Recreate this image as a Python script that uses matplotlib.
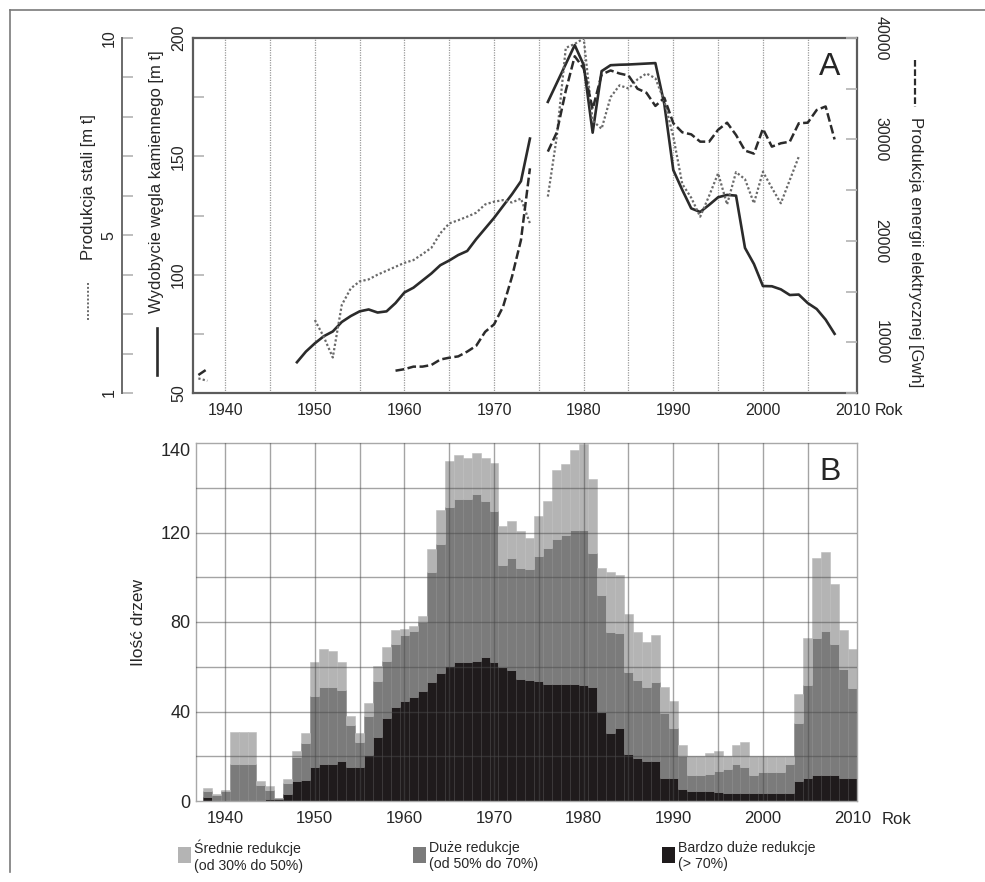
import matplotlib
matplotlib.use("Agg")
import matplotlib.pyplot as plt
from matplotlib.lines import Line2D
from matplotlib.patches import Rectangle
import numpy as np

plt.rcParams['font.family'] = ['Liberation Sans', 'DejaVu Sans']

# ---------------- DATA: panel A (lines) ----------------
coal_years_a = list(range(1948, 1975))
coal_a = [63, 67.5, 71, 74, 76, 80, 82.5, 84.5, 85.3, 84, 84.5, 88, 92.5, 94.5, 97.5,
          100.5, 104, 106, 108.3, 110, 115, 119.5, 124, 129, 134, 139.5, 157.5]
coal_years_b = list(range(1976, 2009))
coal_b = [173, 181, 189, 197, 188.6, 160, 186, 188.5, 188.7, 188.8, 189, 189.2, 189.4,
          172, 144.2, 135.8, 128, 126.5, 129.5, 132.7, 133.7, 133.4, 111.3, 104.5, 95.2,
          95.1, 93.8, 91.4, 91.6, 88, 85.5, 81, 75]

steel_years_0 = [1937, 1938]
steel_0 = [1.37, 1.31]
steel_years_a = list(range(1950, 1975))
steel_a = [2.85, 2.42, 1.9, 3.23, 3.65, 3.83, 3.88, 4.0, 4.1, 4.2, 4.3, 4.37, 4.52, 4.68,
           5.05, 5.3, 5.38, 5.47, 5.57, 5.78, 5.85, 5.89, 5.83, 5.93, 5.3]
steel_years_b = list(range(1976, 2005))
steel_b = [5.98, 7.5, 9.75, 9.85, 9.99, 7.9, 7.7, 8.5, 8.8, 8.72, 8.95, 9.1, 8.98, 8.4,
           7.5, 6.3, 5.95, 5.47, 6.0, 6.57, 5.78, 6.6, 6.42, 5.81, 6.61, 6.2, 5.81, 6.4, 6.99]

elec_years_0 = [1937, 1938]
elec_0 = [6775, 7370]
elec_years_a = list(range(1959, 1975))
elec_a = [7200, 7350, 7600, 7600, 7760, 8300, 8480, 8610, 9080, 9650, 11030, 11770,
          13500, 16470, 20080, 27150]
elec_years_b = list(range(1976, 2009))
elec_b = [28800, 30700, 34800, 38200, 37000, 33000, 36400, 36800, 36500, 36300, 35000,
          34600, 33300, 34100, 31600, 30700, 30500, 29780, 29780, 30950, 31650, 30440,
          28900, 28600, 31050, 29290, 29620, 29780, 31590, 31650, 32900, 33250, 30000]

# ---------------- DATA: panel B (stacked bars) ----------------
bar_years = list(range(1938, 2011))
srednie = [1.5, 0.5, 0.5, 14.5, 14.5, 14.5, 2, 1.5, 0, 2,
           3, 4.5, 15, 17, 16, 12.5, 4, 4, 6, 7,
           6.5, 6.5, 3, 2, 2.5, 10, 15, 20.5, 19.5, 18.5,
           18.5, 19.5, 21.5, 17.5, 16.5, 16.5, 14, 18, 21, 31,
           31.5, 36, 38.5, 33, 12, 27, 26, 26, 21.5, 20,
           21, 11.5, 12, 5, 8.5, 8.5, 9.5, 9, 5.5, 8.5,
           11.5, 8.5, 7, 7, 7, 3.5, 13, 21, 35.5, 35.5,
           27, 17.5, 17.5]
duze = [2.5, 2.5, 4.5, 16.5, 16.5, 16.5, 7, 4, 0.5, 5,
        10.5, 16.5, 32, 34.5, 34.5, 31.5, 19, 11.5, 17.5, 25,
        25.5, 28, 29.5, 29.5, 31, 49.5, 58, 71, 73, 73,
        74.5, 69.5, 67.5, 45.5, 50, 49.5, 49.5, 56, 60.5, 64.5,
        66.5, 68.5, 69, 60, 52, 45, 42.5, 36.5, 35, 33,
        35, 29, 22, 14.5, 7, 7, 7.5, 9.5, 11, 13,
        11.5, 8, 9.5, 9.5, 9.5, 13, 26, 41.5, 61.5, 64.5,
        58.5, 48.5, 40]
bardzo = [2, 0, 0, 0, 0, 0, 0, 1, 1, 3,
          9, 9.5, 15, 16.5, 16.5, 18, 15, 15, 20.5, 28.5,
          37, 42, 44.5, 46.5, 49, 53, 57, 60.5, 62, 62,
          62.5, 64.5, 62, 60, 58.5, 54.5, 54, 53.5, 52.5, 52.5,
          52.5, 52.5, 52, 51, 40, 30.5, 32.5, 21, 19, 18,
          18, 10.5, 10.5, 5.5, 4.5, 4.5, 4.5, 4, 3.5, 3.5,
          3.5, 3.5, 3.5, 3.5, 3.5, 3.5, 9, 10.5, 11.5, 11.5,
          11.5, 10.5, 10.5]

x_tick_years = [1940, 1950, 1960, 1970, 1980, 1990, 2000, 2010]
grid_years = [1940, 1945, 1950, 1955, 1960, 1965, 1970, 1975, 1980, 1985, 1990, 1995, 2000, 2005]
coal_ticks = [50, 100, 150, 200]
steel_ticks = [1, 5, 10]
elec_ticks = [10000, 20000, 30000, 40000]
b_ticks = [0, 40, 80, 120, 160]
b_ticklabels = ['0', '40', '80', '120', '140']
legend_labels = ['Średnie redukcje\n(od 30% do 50%)', 'Duże redukcje\n(od 50% do 70%)',
                 'Bardzo duże redukcje\n(> 70%)']

# ---------------- FIGURE ----------------
W, H = 985, 882
fig = plt.figure(figsize=(W / 100, H / 100), dpi=100)


def fax(l, t, r, b):
    return [l / W, 1 - b / H, (r - l) / W, (b - t) / H]


C_TXT = '#262626'
C_LINE = '#2b2b2b'
C_DOT = '#6a6a6a'
C_TICK = '#b3b3b3'
C_LIGHT, C_MID, C_DARK = '#b4b4b4', '#7b7b7b', '#1f1b1c'

# ---------- Panel A ----------
axA = fig.add_axes(fax(193, 38, 857, 393))
axA.set_xlim(1936.4, 2010.5)
axA.set_ylim(50, 200)
for s in axA.spines.values():
    s.set_color('#5c5c5c')
    s.set_linewidth(1.6)
for gy in grid_years:
    axA.axvline(gy, color='#9a9a9a', lw=0.9, ls=(0, (1, 1)), zorder=0)
axA.set_xticks(x_tick_years)
axA.tick_params(axis='x', length=0, pad=7, labelsize=11.5, colors=C_TXT)
axA.set_yticks(coal_ticks, [str(t) for t in coal_ticks], rotation=90, va='center')
axA.set_yticks([75, 125, 175], minor=True)
axA.tick_params(axis='y', which='both', direction='in', length=8, width=1.2,
                color=C_TICK, pad=5, labelsize=11.5, labelcolor=C_TXT)

axS = axA.twinx()
axS.set_ylim(1, 10)
for k in ['right', 'top', 'bottom']:
    axS.spines[k].set_visible(False)
axS.spines['left'].set_visible(True)
axS.spines['left'].set_position(('axes', -71 / 664))
axS.spines['left'].set_color('#6a6a6a')
axS.spines['left'].set_linewidth(1.4)
axS.yaxis.set_ticks_position('left')
axS.set_yticks(steel_ticks, [str(t) for t in steel_ticks], rotation=90, va='center')
axS.set_yticks([2, 3, 4, 6, 7, 8, 9], minor=True)
axS.tick_params(axis='y', which='both', direction='in', length=8, width=1.2,
                color=C_TICK, pad=4, labelsize=11.5, labelcolor=C_TXT)

axE = axA.twinx()
axE.set_ylim(5000, 40000)
for s in axE.spines.values():
    s.set_visible(False)
axE.set_yticks(elec_ticks, [str(t) for t in elec_ticks], rotation=270, va='center')
axE.set_yticks([5000, 15000, 25000, 35000], minor=True)
axE.tick_params(axis='y', which='both', direction='in', length=8, width=1.2,
                color=C_TICK, pad=12, labelsize=11.5, labelcolor=C_TXT)

axA.plot(coal_years_a, coal_a, color=C_LINE, lw=1.9, solid_joinstyle='round')
axA.plot(coal_years_b, coal_b, color=C_LINE, lw=1.9, solid_joinstyle='round')
for yy, vv in [(steel_years_0, steel_0), (steel_years_a, steel_a), (steel_years_b, steel_b)]:
    axS.plot(yy, vv, color=C_DOT, lw=1.6, ls=(0, (1, 1)))
for yy, vv in [(elec_years_0, elec_0), (elec_years_a, elec_a), (elec_years_b, elec_b)]:
    axE.plot(yy, vv, color=C_LINE, lw=1.8, ls=(0, (3.5, 1.4)))

fig.text(830 / W, 1 - 67 / H, 'A', fontsize=23, ha='center', va='center', color=C_TXT)
fig.text(875 / W, 1 - 411 / H, 'Rok', fontsize=11.5, ha='left', va='center', color=C_TXT)

# axis titles with line samples
fig.text(88 / W, 1 - 187 / H, 'Produkcja stali [m t]', rotation=90, ha='center',
         va='center', fontsize=12, color=C_TXT)
fig.add_artist(Line2D([88 / W, 88 / W], [1 - 283 / H, 1 - 320 / H], color=C_DOT, lw=1.4,
                      ls=(0, (1, 1))))
fig.text(157 / W, 1 - 182 / H, 'Wydobycie węgla kamiennego [m t]', rotation=90, ha='center',
         va='center', fontsize=12, color=C_TXT)
fig.add_artist(Line2D([157 / W, 157 / W], [1 - 328 / H, 1 - 375 / H], color=C_LINE, lw=1.9))
fig.text(915 / W, 1 - 252 / H, 'Produkcja energii elektrycznej [Gwh]', rotation=270,
         ha='center', va='center', fontsize=12, color=C_TXT)
fig.add_artist(Line2D([915 / W, 915 / W], [1 - 60 / H, 1 - 107 / H], color=C_LINE, lw=1.6,
                      ls=(0, (3, 1.2))))

# ---------- Panel B ----------
axB = fig.add_axes(fax(196, 443, 857, 801))
axB.set_xlim(1936.75, 2010.5)
axB.set_ylim(0, 160)
bd = np.array(bardzo, dtype=float)
du = np.array(duze, dtype=float)
sr = np.array(srednie, dtype=float)
axB.bar(bar_years, bd, width=1.0, color=C_DARK, edgecolor='#3a3637', linewidth=0.4, zorder=2)
axB.bar(bar_years, du, bottom=bd, width=1.0, color=C_MID, edgecolor='#858585', linewidth=0.4,
        zorder=2)
axB.bar(bar_years, sr, bottom=bd + du, width=1.0, color=C_LIGHT, edgecolor='#bcbcbc',
        linewidth=0.4, zorder=2)
for gy in grid_years:
    axB.axvline(gy, color='#4a4a4a', lw=1.0, alpha=0.5, zorder=3)
for gv in range(20, 160, 20):
    axB.axhline(gv, color='#4a4a4a', lw=1.0, alpha=0.5, zorder=3)
for s in axB.spines.values():
    s.set_color('#a8a8a8')
    s.set_linewidth(1.0)
axB.set_xticks(x_tick_years)
axB.tick_params(axis='x', length=0, pad=7, labelsize=12, colors=C_TXT)
axB.set_yticks(b_ticks, b_ticklabels)
axB.tick_params(axis='y', length=0, pad=4, labelsize=13, colors=C_TXT)
axB.get_yticklabels()[-1].set_va('top')
axB.set_ylabel('Ilość drzew', fontsize=12.5, color=C_TXT, labelpad=10)
fig.text(830 / W, 1 - 472 / H, 'B', fontsize=23, ha='center', va='center', color=C_TXT)
fig.text(882 / W, 1 - 820 / H, 'Rok', fontsize=12, ha='left', va='center', color=C_TXT)

# ---------- Legend ----------
leg_sq_x = [178, 413, 662]
leg_cols = [C_LIGHT, C_MID, C_DARK]
for x0, col, lab in zip(leg_sq_x, leg_cols, legend_labels):
    fig.add_artist(Rectangle((x0 / W, 1 - 863 / H), 13 / W, 16 / H, facecolor=col,
                             edgecolor='none', transform=fig.transFigure))
    fig.text((x0 + 16) / W, 1 - 856 / H, lab, fontsize=10.2, ha='left', va='center',
             color=C_TXT, linespacing=1.25)

# ---------- Outer frame ----------
fig.add_artist(Line2D([10 / W, 1.0], [1 - 10 / H, 1 - 10 / H], color='#7a7a7a', lw=1.2))
fig.add_artist(Line2D([10 / W, 10 / W], [1 - 10 / H, 1 - 872 / H], color='#7a7a7a', lw=1.2))

fig.savefig('out.png', dpi=100)
